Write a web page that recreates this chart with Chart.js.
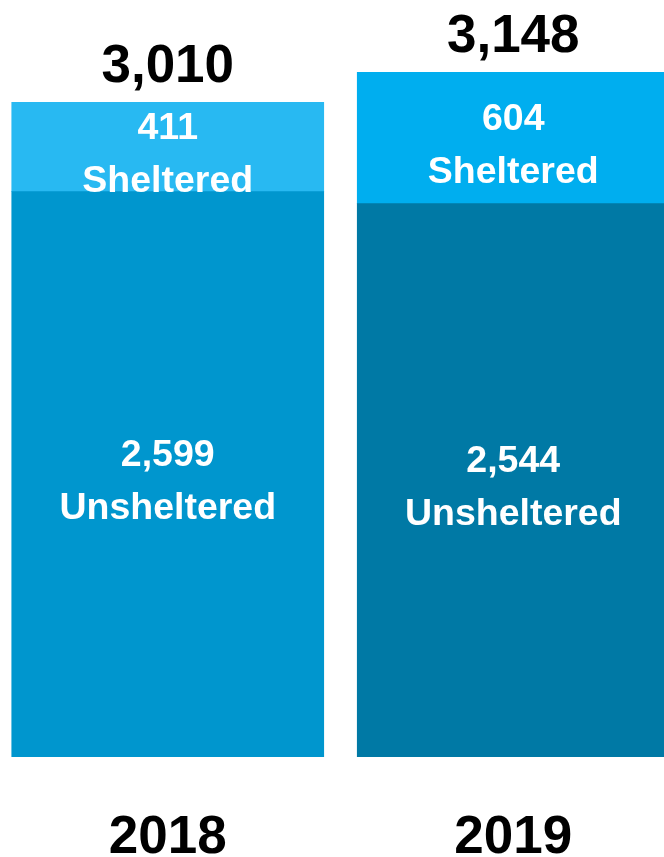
<!DOCTYPE html>
<html>
<head>
<meta charset="utf-8">
<script src="https://cdn.jsdelivr.net/npm/chart.js@4/dist/chart.umd.min.js"></script>
<style>
  html, body { margin: 0; padding: 0; background: #fff; overflow: hidden; }
  body { width: 664px; height: 857px; position: relative; }
  #chart { position: absolute; left: -5px; top: 0; }
</style>
</head>
<body>
<canvas id="chart" width="691" height="857"></canvas>
<script>
'use strict';

// ── DATA ─────────────────────────────────────────────────────
const years       = ['2018', '2019'];
const unsheltered = [2599, 2544];
const sheltered   = [411, 604];

const UNSHELTERED_COLORS = ['#0096CE', '#0079A5'];
const SHELTERED_COLORS   = ['#28B9F2', '#00AEEF'];

const INNER_FONT = 'bold 37.5px "Liberation Sans", Arial, sans-serif';
const OUTER_FONT = 'bold 53px "Liberation Sans", Arial, sans-serif';

const fmt = v => v.toLocaleString('en-US');

// ── LABELS PLUGIN ────────────────────────────────────────────
const barLabels = {
  id: 'barLabels',
  afterDatasetsDraw(chart) {
    const ctx = chart.ctx;
    ctx.save();
    ctx.textAlign = 'center';
    ctx.textBaseline = 'alphabetic';

    // value + name inside each segment
    chart.data.datasets.forEach((ds, di) => {
      const meta = chart.getDatasetMeta(di);
      meta.data.forEach((bar, i) => {
        const mid = (bar.y + bar.base) / 2;
        ctx.fillStyle = '#FFFFFF';
        ctx.font = INNER_FONT;
        ctx.fillText(fmt(ds.data[i]), bar.x, mid - 8);
        ctx.fillText(ds.label, bar.x, mid + 45);
      });
    });

    // totals above, years below
    const top = chart.getDatasetMeta(chart.data.datasets.length - 1);
    top.data.forEach((bar, i) => {
      const total = unsheltered[i] + sheltered[i];
      ctx.fillStyle = '#000000';
      ctx.font = OUTER_FONT;
      ctx.fillText(fmt(total), bar.x, bar.y - 20);
      ctx.fillText(years[i], bar.x, 853);
    });
    ctx.restore();
  },
};

// ── CHART ────────────────────────────────────────────────────
new Chart(document.getElementById('chart'), {
  type: 'bar',
  data: {
    labels: years,
    datasets: [
      {
        label: 'Unsheltered',
        data: unsheltered,
        backgroundColor: UNSHELTERED_COLORS,
        borderWidth: 0,
        barThickness: 312,
      },
      {
        label: 'Sheltered',
        data: sheltered,
        backgroundColor: SHELTERED_COLORS,
        borderWidth: 0,
        barThickness: 312,
      },
    ],
  },
  options: {
    responsive: false,
    animation: false,
    layout: { padding: { top: 0, bottom: 100, left: 0, right: 0 } },
    plugins: {
      legend: { display: false },
      tooltip: { enabled: false },
    },
    scales: {
      x: { stacked: true, display: false },
      y: { stacked: true, display: false, min: 0, max: 3480 },
    },
  },
  plugins: [barLabels],
});
</script>
</body>
</html>
